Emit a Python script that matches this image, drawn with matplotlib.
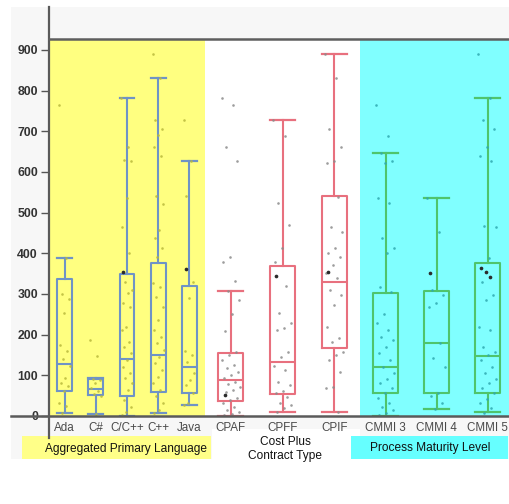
import matplotlib
matplotlib.use("Agg")
import matplotlib.pyplot as plt
from matplotlib.patches import Rectangle
from matplotlib.lines import Line2D

plt.rcParams["font.family"] = ["Liberation Sans", "DejaVu Sans"]

# ---- data -------------------------------------------------------------
group_titles = ["Aggregated Primary Language", "Cost Plus\nContract Type", "Process Maturity Level"]
group_cats = [["Ada", "C#", "C/C++", "C++", "Java"],
              ["CPAF", "CPFF", "CPIF"],
              ["CMMI 3", "CMMI 4", "CMMI 5"]]

# box statistics per category: lower whisker, Q1, median, Q3, upper whisker
whislo = [7, 5, 0, 8, 27, 0, 10, 10, 0, 18, 10]
q1 = [62, 52, 50, 59, 56, 37, 55, 167, 57, 57, 57]
med = [128, 66, 140, 150, 120, 89, 133, 330, 120, 180, 148]
q3 = [337, 91, 349, 376, 320, 155, 368, 541, 303, 308, 376]
whishi = [388, 93, 782, 832, 628, 307, 728, 890, 647, 536, 782]

ada_pts = [765, 388, 299, 288, 253, 175, 160, 140, 124, 94, 81, 74, 62, 33, 25, 7]
csharp_pts = [187, 148, 92, 88, 80, 69, 62, 55, 48, 5]
c_cpp_pts = [782, 662, 630, 626, 537, 465, 400, 330, 310, 302, 278, 269, 220, 211,
             183, 170, 155, 138, 121, 105, 93, 81, 64, 39, 23, 11, 3]
cpp_pts = [890, 832, 728, 706, 690, 662, 640, 540, 522, 457, 437, 413, 392, 327, 318,
           293, 269, 236, 211, 195, 179, 162, 146, 130, 113, 97, 81, 64, 48, 31, 15, 8]
java_pts = [728, 628, 540, 330, 290, 161, 150, 134, 106, 88, 76, 56, 31, 27]
cpaf_pts = [782, 765, 662, 627, 391, 379, 332, 307, 285, 252, 210, 158, 150, 138, 125,
            118, 109, 100, 93, 84, 78, 72, 65, 60, 45, 39, 31, 23, 15, 11, 5, 2]
cpff_pts = [728, 688, 523, 470, 413, 379, 320, 253, 229, 216, 212, 158, 146, 123, 113,
            84, 76, 62, 56, 47, 31, 27, 19, 11]
cpif_pts = [890, 832, 705, 662, 628, 621, 538, 465, 453, 413, 400, 390, 371, 351, 339,
            310, 298, 273, 220, 192, 183, 158, 150, 138, 109, 72, 69, 10]
cmmi3_pts = [765, 688, 647, 627, 622, 537, 523, 437, 412, 400, 318, 305, 252, 228, 211,
             195, 187, 170, 155, 138, 121, 105, 92, 81, 69, 56, 44, 31, 23, 15, 7, 2]
cmmi4_pts = [536, 453, 310, 298, 278, 269, 180, 142, 121, 56, 48, 33, 18]
cmmi5_pts = [890, 782, 728, 705, 662, 640, 628, 468, 465, 388, 330, 298, 285, 220, 211,
             170, 158, 150, 138, 121, 105, 92, 80, 68, 56, 43, 31, 19, 8]
points = [ada_pts, csharp_pts, c_cpp_pts, cpp_pts, java_pts,
          cpaf_pts, cpff_pts, cpif_pts, cmmi3_pts, cmmi4_pts, cmmi5_pts]

# highlighted (selected) rows per category
marked = [[], [], [355], [], [362], [52], [344], [355], [], [352], [363, 355, 343]]

y_ticks = [0, 100, 200, 300, 400, 500, 600, 700, 800, 900]

# ---- styling ------------------------------------------------------------
group_span = [156, 155, 153]
group_bg = ["#ffff80", "#ffffff", "#80ffff"]
group_line = ["#6f93c6", "#e8707e", "#4fc46c"]
group_dot = ["#b9b93c", "#8c8c8c", "#2fa9b0"]
label_bg = ["#ffff88", "#ffffff", "#66ffff"]

W, H = 509, 504
fig = plt.figure(figsize=(W / 100, H / 100), dpi=100)
fig.patch.set_facecolor("white")


def fx(px):
    return px / W


def fy(py):
    return 1 - py / H


# light gray panel behind everything
fig.patches.append(Rectangle((fx(11), fy(459)), fx(498), 452 / H, transform=fig.transFigure,
                             facecolor="#f7f7f7", edgecolor="none", zorder=-2))

ax_left, ax_top, ax_bottom = 49, 39, 416
ax = fig.add_axes([fx(ax_left), fy(ax_bottom), fx(W - ax_left), (ax_bottom - ax_top) / H])
ax.set_facecolor("none")
y_top = (ax_bottom - ax_top) / 0.4067
ax.set_ylim(0, y_top)
ax.set_xlim(0, W - ax_left)

# category positions
positions, widths, colors, dots, labels = [], [], [], [], []
start = 0
for g, cats in enumerate(group_cats):
    slot = group_span[g] / len(cats)
    ax.axvspan(start, start + group_span[g], color=group_bg[g], zorder=0, lw=0)
    for i, c in enumerate(cats):
        positions.append(start + slot * (i + 0.5))
        widths.append(slot * 0.48)
        colors.append(group_line[g])
        dots.append(group_dot[g])
        labels.append(c)
    start += group_span[g]

stats = []
for k in range(len(labels)):
    stats.append(dict(whislo=whislo[k], q1=q1[k], med=med[k], q3=q3[k],
                      whishi=whishi[k], fliers=[], label=labels[k]))

for k in range(len(labels)):
    col = colors[k]
    ax.bxp([stats[k]], positions=[positions[k]], widths=[widths[k]],
           capwidths=[widths[k]], showfliers=False, patch_artist=False,
           boxprops=dict(color=col, lw=1.5),
           whiskerprops=dict(color=col, lw=1.5),
           capprops=dict(color=col, lw=1.6),
           medianprops=dict(color=col, lw=1.5),
           manage_ticks=False, zorder=3)

# jittered points
golden = 0.6180339887
for k, pts in enumerate(points):
    xs = [positions[k] + ((i * golden) % 1 - 0.5) * widths[k] * 0.75 for i in range(len(pts))]
    ax.scatter(xs, pts, s=3.5, color=dots[k], alpha=0.85, lw=0, zorder=4, clip_on=False)
    if marked[k]:
        mx = [positions[k] + ((j * 0.37) % 1 - 0.5) * widths[k] * 0.5 for j in range(len(marked[k]))]
        ax.scatter(mx, marked[k], s=7, color="#2b2b2b", lw=0, zorder=5)

# axes cosmetics
for s in ax.spines.values():
    s.set_visible(False)
ax.set_xticks(positions)
ax.set_xticklabels(labels, fontsize=8.4, color="#4a4a4a")
ax.tick_params(axis="x", length=0, pad=4)
ax.set_yticks(y_ticks)
ax.set_yticklabels([str(v) for v in y_ticks], fontsize=8.8, fontweight="bold", color="#333333")
ax.tick_params(axis="y", length=6, width=1, color="#555555", pad=2)

# frame lines
fig.lines.append(Line2D([fx(ax_left), fx(ax_left)], [fy(7), fy(438)], transform=fig.transFigure,
                        color="#5a5a5a", lw=1.6, zorder=6))
fig.lines.append(Line2D([fx(11), 1], [fy(ax_bottom), fy(ax_bottom)], transform=fig.transFigure,
                        color="#5a5a5a", lw=1.8, zorder=6))
fig.lines.append(Line2D([fx(ax_left), 1], [fy(ax_top), fy(ax_top)], transform=fig.transFigure,
                        color="#5e5e5e", lw=1.8, zorder=6))

# group titles under the axis
boxes = [(22, 436, 211, 459), (212, 429, 360, 460), (351, 436, 508, 459)]
text_xy = [(126, 449), (285, 449), (430, 448)]
for g, title in enumerate(group_titles):
    x0, y0, x1, y1 = boxes[g]
    fig.patches.append(Rectangle((fx(x0), fy(y1)), fx(x1 - x0), (y1 - y0) / H,
                                 transform=fig.transFigure, facecolor=label_bg[g],
                                 edgecolor="none", zorder=-1))
    tx, ty = text_xy[g]
    fig.text(fx(tx), fy(ty), title, ha="center", va="center", fontsize=8.6,
             color="#111111", linespacing=1.2, zorder=2)

fig.savefig("out.png", dpi=100)
